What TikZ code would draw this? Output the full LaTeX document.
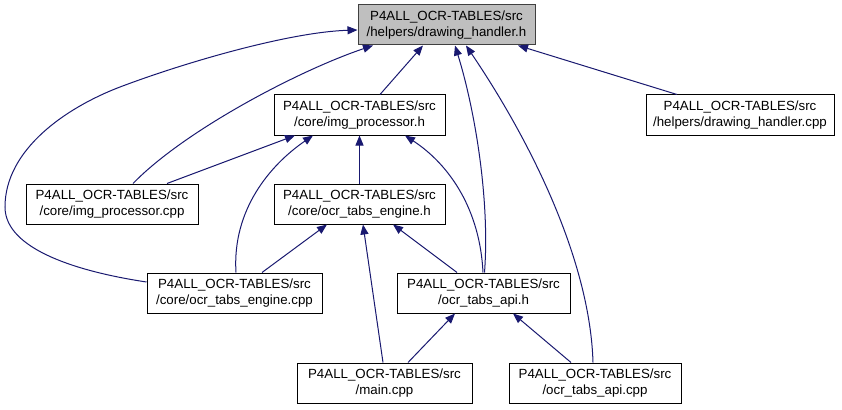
\documentclass[tikz,border=0pt]{standalone}
\usepackage{fontspec}
\setmainfont{Liberation Sans}
\usepackage{tikz}
\usetikzlibrary{arrows.meta}
\definecolor{GraphEdge}{HTML}{191970}
\definecolor{GraphRoot}{HTML}{BFBFBF}
\definecolor{GraphRootLine}{HTML}{404040}

\begin{document}
\begin{tikzpicture}[x=1pt,y=-1pt,
		file/.style={draw=black,line width=1pt,fill=white,minimum height=40pt,inner sep=0pt,align=center,font=\fontsize{13.3}{16}\selectfont},
		root/.style={file,draw=GraphRootLine,fill=GraphRoot},
		incl/.style={GraphEdge,line width=1pt,-{Triangle[length=10pt,width=8pt]}}]
		\useasboundingbox[fill=white] (0,0) rectangle (842,409);
		\node[root,minimum width=177pt] (dh) at (446.5,25) {P4ALL\_OCR-TABLES/src\\/helpers/drawing\_handler.h};
		\node[file,minimum width=171pt] (iph) at (359.5,115) {P4ALL\_OCR-TABLES/src\\/core/img\_processor.h};
		\node[file,minimum width=188pt] (dhc) at (740,115) {P4ALL\_OCR-TABLES/src\\/helpers/drawing\_handler.cpp};
		\node[file,minimum width=172pt] (ipc) at (112,204) {P4ALL\_OCR-TABLES/src\\/core/img\_processor.cpp};
		\node[file,minimum width=171pt] (oteh) at (359.5,204) {P4ALL\_OCR-TABLES/src\\/core/ocr\_tabs\_engine.h};
		\node[file,minimum width=175pt] (otec) at (234.5,293) {P4ALL\_OCR-TABLES/src\\/core/ocr\_tabs\_engine.cpp};
		\node[file,minimum width=173pt] (oah) at (483.5,293) {P4ALL\_OCR-TABLES/src\\/ocr\_tabs\_api.h};
		\node[file,minimum width=175pt] (main) at (384.5,383) {P4ALL\_OCR-TABLES/src\\/main.cpp};
		\node[file,minimum width=172pt] (oac) at (595,383) {P4ALL\_OCR-TABLES/src\\/ocr\_tabs\_api.cpp};
		\draw[incl] ([xshift=20.5pt]iph.north) -- ([xshift=-23.5pt]dh.south);
		\draw[incl] ([xshift=21pt]ipc.north) .. controls (185,130) and (300,70) .. ([xshift=-73.5pt]dh.south);
		\draw[incl] ([yshift=11pt]otec.west) .. controls (80,272) and (5,250) .. (5,207) .. controls (5,150) and (65,108) .. (120,87) .. controls (186,62) and (290,32) .. ([yshift=-5pt]dh.west);
		\draw[incl] ([xshift=1pt]oah.north) .. controls (490,200) and (475,110) .. ([xshift=8.5pt]dh.south);
		\draw[incl] ([xshift=-2pt]oac.north) .. controls (590,260) and (530,140) .. ([xshift=19.5pt]dh.south);
		\draw[incl] ([xshift=-63pt]dhc.north) -- ([xshift=71.5pt]dh.south);
		\draw[incl] ([xshift=55pt]ipc.north) -- ([xshift=-64.5pt]iph.south);
		\draw[incl] ([xshift=1.5pt]otec.north) .. controls (232,210) and (270,165) .. ([xshift=-46.5pt]iph.south);
		\draw[incl] (oteh.north) -- (iph.south);
		\draw[incl] ([xshift=-0.5pt]oah.north) .. controls (480,210) and (450,165) .. ([xshift=45.5pt]iph.south);
		\draw[incl] ([xshift=27.5pt]otec.north) -- ([xshift=-32.5pt]oteh.south);
		\draw[incl] ([xshift=-1.5pt]main.north) -- ([xshift=3.5pt]oteh.south);
		\draw[incl] ([xshift=-26.5pt]oah.north) -- ([xshift=33.5pt]oteh.south);
		\draw[incl] ([xshift=23.5pt]main.north) -- ([xshift=-28.5pt]oah.south);
		\draw[incl] ([xshift=-24pt]oac.north) -- ([xshift=29.5pt]oah.south);
	\end{tikzpicture}
\end{document}
